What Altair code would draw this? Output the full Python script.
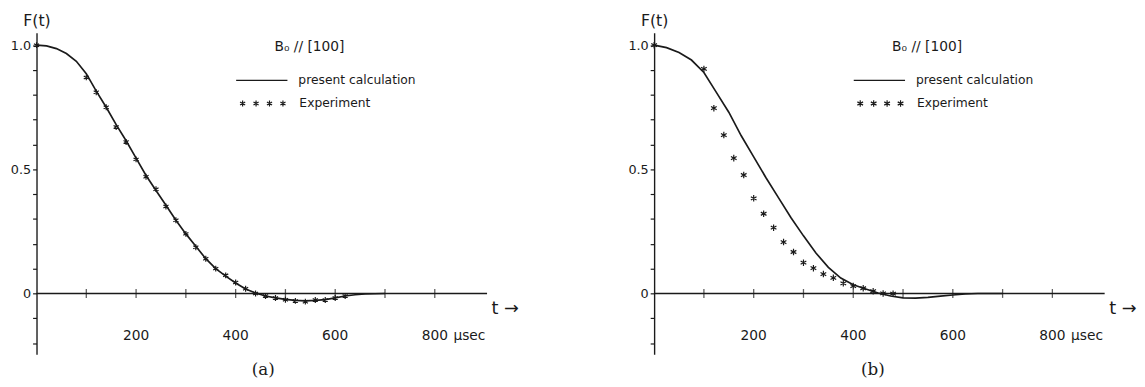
import altair as alt
import pandas as pd

# ---------------- data ----------------
# Panel (a)
calc_a_t = [0, 20, 40, 60, 80, 100, 120, 140, 160, 180, 200, 220, 240, 260, 280, 300, 320, 340,
            360, 380, 400, 420, 440, 460, 480, 500, 520, 540, 560, 580, 600, 620, 640, 660, 700]
calc_a_f = [1.0, 0.997, 0.986, 0.966, 0.935, 0.885, 0.815, 0.75, 0.68, 0.615, 0.545, 0.475, 0.415,
            0.355, 0.295, 0.24, 0.19, 0.14, 0.1, 0.07, 0.042, 0.018, 0.002, -0.01, -0.018, -0.024,
            -0.028, -0.03, -0.028, -0.025, -0.018, -0.01, -0.005, -0.002, 0.0]
exp_a_t = [0, 100, 120, 140, 160, 180, 200, 220, 240, 260, 280, 300, 320, 340, 360, 380, 400,
           420, 440, 460, 480, 500, 520, 540, 560, 580, 600, 620]
exp_a_f = [1.0, 0.87, 0.81, 0.75, 0.67, 0.61, 0.54, 0.47, 0.42, 0.35, 0.295, 0.24, 0.186, 0.14,
           0.10, 0.073, 0.044, 0.019, 0.0, -0.01, -0.018, -0.025, -0.03, -0.033, -0.026, -0.026,
           -0.018, -0.01]

# Panel (b)
calc_b_t = [0, 25, 50, 75, 100, 125, 150, 175, 200, 225, 250, 275, 300, 325, 350, 375, 400, 425,
            450, 475, 500, 525, 550, 575, 600, 625, 650, 700]
calc_b_f = [1.0, 0.99, 0.97, 0.94, 0.89, 0.81, 0.73, 0.635, 0.55, 0.465, 0.385, 0.305, 0.232,
            0.163, 0.105, 0.062, 0.035, 0.018, 0.002, -0.01, -0.018, -0.019, -0.016, -0.011,
            -0.006, -0.002, 0.0, 0.0]
exp_b_t = [0, 100, 120, 140, 160, 180, 200, 220, 240, 260, 280, 300, 320, 340, 360, 380, 400,
           420, 440, 460, 480]
exp_b_f = [1.0, 0.904, 0.746, 0.638, 0.545, 0.477, 0.383, 0.321, 0.265, 0.207, 0.167, 0.124,
           0.102, 0.078, 0.063, 0.041, 0.03, 0.021, 0.009, 0.0, -0.001]

# axis ticks and labels
x_tick_values = [100, 200, 300, 400, 500, 600, 700, 800]
x_label_values = [200, 400, 600, 800]
x_label_texts = ["200", "400", "600", "800"]
x_unit_text = "\u03bcsec"
y_tick_values = [-0.2, -0.1, 0.0, 0.1, 0.2, 0.3, 0.4, 0.5, 0.6, 0.7, 0.8, 0.9, 1.0]
axis_end = [905]
panel_titles = ["(a)", "(b)"]
legend_title = "B\u2080 // [100]"
legend_calc = "present calculation"
legend_exp = "Experiment"

INK = "#1a1a1a"
FONT = "DejaVu Sans"
W, H = 490, 327
XDOM = [0, 968]
YDOM = [-0.245, 1.05]
STAR = "M0,-1L0,1M-0.87,-0.5L0.87,0.5M-0.87,0.5L0.87,-0.5"


def panel(calc_t, calc_f, exp_t, exp_f, title, title_x, star_size):
    xs = alt.Scale(domain=XDOM, nice=False, zero=False)
    ys = alt.Scale(domain=YDOM, nice=False, zero=False)
    calc = pd.DataFrame({"t": calc_t, "f": calc_f})
    exp = pd.DataFrame({"t": exp_t, "f": exp_f})

    line = alt.Chart(calc).mark_line(color=INK, strokeWidth=1.7).encode(
        x=alt.X("t:Q", scale=xs, axis=alt.Axis(
            title=title, domain=False, ticks=False, labels=False, grid=False,
            titleX=title_x, titleFont="DejaVu Serif", titleFontSize=17,
            titleFontWeight="normal", titleColor=INK, titlePadding=8)),
        y=alt.Y("f:Q", scale=ys, axis=alt.Axis(
            values=y_tick_values, tickCount=40, grid=False, tickSize=4, tickColor=INK,
            tickWidth=1.2, domainColor=INK, domainWidth=1.4, labelOverlap=False,
            labelExpr="abs(datum.value - 1) < 1e-9 ? '1.0' : abs(datum.value - 0.5) < 1e-9 ? '0.5' : abs(datum.value) < 1e-9 ? '0' : ''",
            labelFont=FONT, labelFontSize=13, labelColor=INK, labelPadding=2,
            title="F(t)", titleAngle=0, titleX=0, titleY=-7, titleAlign="center",
            titleBaseline="alphabetic", titleFont=FONT, titleFontSize=16,
            titleFontWeight="normal", titleColor=INK)),
    )

    xaxis = alt.Chart(pd.DataFrame({"t": [0], "t2": axis_end, "f": [0]})).mark_rule(
        color=INK, strokeWidth=1.4).encode(x="t:Q", x2="t2:Q", y="f:Q")

    ticks = alt.Chart(pd.DataFrame({"t": x_tick_values, "f": [0] * len(x_tick_values)})).mark_tick(
        orient="vertical", size=9, thickness=1.3, color=INK).encode(x="t:Q", y="f:Q")

    labels = alt.Chart(pd.DataFrame({"t": x_label_values, "f": [-0.17] * len(x_label_values),
                                     "s": x_label_texts})).mark_text(
        font=FONT, fontSize=14, color=INK, align="center", baseline="middle").encode(
        x="t:Q", y="f:Q", text="s:N")

    unit = alt.Chart(pd.DataFrame({"t": [800], "f": [-0.17], "s": [x_unit_text]})).mark_text(
        font=FONT, fontSize=14, color=INK, align="left", baseline="middle", dx=19).encode(
        x="t:Q", y="f:Q", text="s:N")

    tarrow = alt.Chart(pd.DataFrame({"t": [914], "f": [-0.083], "s": ["t \u2192"]})).mark_text(
        font=FONT, fontSize=18, color=INK, align="left", baseline="alphabetic").encode(
        x="t:Q", y="f:Q", text="s:N")

    pts = alt.Chart(exp).mark_point(shape=STAR, filled=False, size=star_size, strokeWidth=1.2,
                                    color=INK, opacity=1).encode(x="t:Q", y="f:Q")

    leg_title = alt.Chart(pd.DataFrame({"t": [478], "f": [0.994], "s": [legend_title]})).mark_text(
        font=FONT, fontSize=14, color=INK, align="left", baseline="middle").encode(
        x="t:Q", y="f:Q", text="s:N")
    leg_line = alt.Chart(pd.DataFrame({"t": [401], "t2": [504], "f": [0.858]})).mark_rule(
        color=INK, strokeWidth=1.3).encode(x="t:Q", x2="t2:Q", y="f:Q")
    leg_text = alt.Chart(pd.DataFrame({"t": [526, 528], "f": [0.858, 0.765],
                                       "s": [legend_calc, legend_exp]})).mark_text(
        font=FONT, fontSize=12.5, color=INK, align="left", baseline="middle").encode(
        x="t:Q", y="f:Q", text="s:N")
    leg_pts = alt.Chart(pd.DataFrame({"t": [414, 441, 468, 495], "f": [0.765] * 4})).mark_point(
        shape=STAR, filled=False, size=star_size, strokeWidth=1.2, color=INK, opacity=1).encode(
        x="t:Q", y="f:Q")

    return alt.layer(line, xaxis, ticks, labels, unit, tarrow, pts,
                     leg_title, leg_line, leg_text, leg_pts).properties(width=W, height=H)


pa = panel(calc_a_t, calc_a_f, exp_a_t, exp_a_f, panel_titles[0], 230, 36)
pb = panel(calc_b_t, calc_b_f, exp_b_t, exp_b_f, panel_titles[1], 222, 44)

chart = alt.hconcat(pa, pb, spacing=110).properties(
    padding={"left": 2, "top": 2, "right": 0, "bottom": 0}
).configure(background="white", view=alt.ViewConfig(strokeWidth=0, stroke="transparent"))

chart.save("out.html", embed_options={"renderer": "svg", "actions": False})
